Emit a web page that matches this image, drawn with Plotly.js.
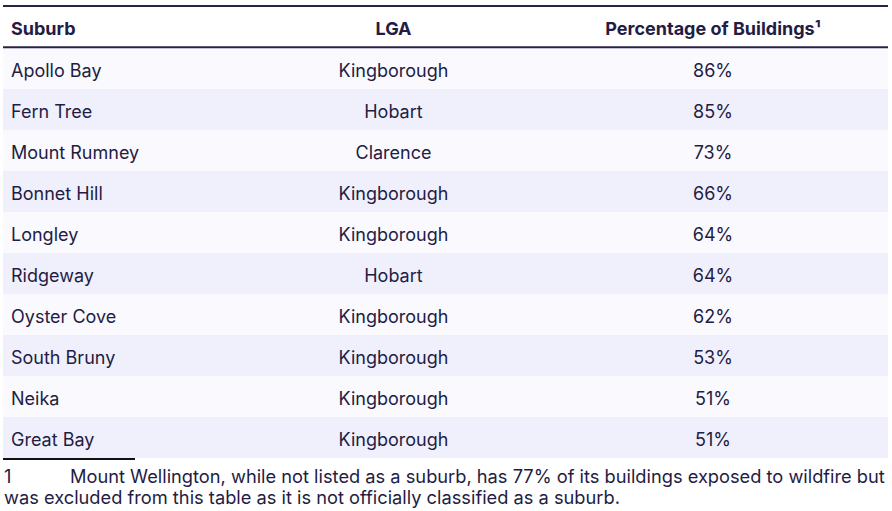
<!DOCTYPE html>
<html>
<head>
<meta charset="utf-8">
<script src="https://cdn.plot.ly/plotly-3.0.1.min.js"></script>
<style>html,body{margin:0;padding:0;background:#fff;}#chart{width:892px;height:511px;}</style>
</head>
<body>
<div id="chart"></div>
<script>
const headers = ["Suburb", "LGA", "Percentage of Buildings¹"];
const suburbs = ["Apollo Bay", "Fern Tree", "Mount Rumney", "Bonnet Hill", "Longley", "Ridgeway", "Oyster Cove", "South Bruny", "Neika", "Great Bay"];
const lgas = ["Kingborough", "Hobart", "Clarence", "Kingborough", "Kingborough", "Hobart", "Kingborough", "Kingborough", "Kingborough", "Kingborough"];
const percentages = [86, 85, 73, 66, 64, 64, 62, 53, 51, 51];
const footnoteNumber = "1";
const footnoteLine1 = "Mount Wellington, while not listed as a suburb, has 77% of its buildings exposed to wildfire but";
const footnoteLine2 = "was excluded from this table as it is not officially classified as a suburb.";

const W = 892, H = 511;
const textColor = "#231c44";
const rowFills = suburbs.map((s, i) => i % 2 === 0 ? "#f9f9fe" : "#f0f0fc");

// a small blank leading line pushes the text down inside its cell (Plotly tables are top-aligned)
const BASE = 9;
const lift = (t, bold) => "&nbsp;<br><span style='font-size:18px'>" + (bold ? "<b>" + t + "</b>" : t) + "</span>";

const trace = {
  type: "table",
  domain: {x: [3 / W, 888 / W], y: [1 - 459 / H, 1 - 6 / H]},
  columnwidth: [246, 289, 350],
  header: {
    values: headers.map(h => lift(h, true)),
    align: ["left", "center", "center"],
    height: 42,
    fill: {color: "#ffffff"},
    line: {width: 0, color: "rgba(0,0,0,0)"},
    font: {family: "Inter, sans-serif", size: BASE, color: textColor}
  },
  cells: {
    values: [suburbs.map(s => lift(s)), lgas.map(s => lift(s)), percentages.map(p => lift(p + "%"))],
    align: ["left", "center", "center"],
    height: 41,
    fill: {color: [rowFills, rowFills, rowFills]},
    line: {width: 0, color: "rgba(0,0,0,0)"},
    font: {family: "Inter, sans-serif", size: BASE, color: textColor}
  }
};

const px = v => v / W;
const py = v => 1 - v / H;
const FN = 18.25;

const layout = {
  width: W, height: H,
  margin: {l: 0, r: 0, t: 0, b: 0},
  paper_bgcolor: "#ffffff",
  showlegend: false,
  shapes: [
    {type: "line", xref: "paper", yref: "paper", x0: px(3), x1: px(888), y0: py(6), y1: py(6), line: {color: "#2a2347", width: 2}},
    {type: "line", xref: "paper", yref: "paper", x0: px(3), x1: px(888), y0: py(47.3), y1: py(47.3), line: {color: "#2a2347", width: 2}},
    {type: "line", xref: "paper", yref: "paper", x0: px(3), x1: px(135), y0: py(459), y1: py(459), line: {color: "#111111", width: 1.8}}
  ],
  annotations: [
    {xref: "paper", yref: "paper", x: px(2), y: py(476), xanchor: "left", yanchor: "middle", showarrow: false, text: footnoteNumber, font: {family: "Inter, sans-serif", size: FN, color: textColor}},
    {xref: "paper", yref: "paper", x: px(68), y: py(476), xanchor: "left", yanchor: "middle", showarrow: false, text: footnoteLine1, font: {family: "Inter, sans-serif", size: FN, color: textColor}},
    {xref: "paper", yref: "paper", x: px(2), y: py(497), xanchor: "left", yanchor: "middle", showarrow: false, text: footnoteLine2, font: {family: "Inter, sans-serif", size: FN, color: textColor}}
  ]
};

Plotly.newPlot("chart", [trace], layout, {displayModeBar: false, staticPlot: true});
</script>
</body>
</html>
